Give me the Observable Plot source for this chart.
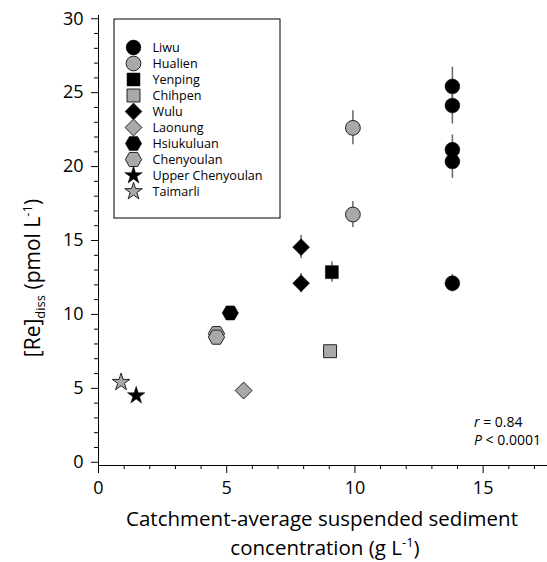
<!DOCTYPE html>
<html>
<head>
<meta charset="utf-8">
<script src="https://cdn.jsdelivr.net/npm/d3@7"></script>
<script src="https://cdn.jsdelivr.net/npm/@observablehq/plot@0.6"></script>
<style>
  html, body { margin: 0; padding: 0; background: #fff; }
  #wrap { position: relative; width: 547px; height: 562px; font-family: "Open Sans", sans-serif; }
  #legend { position: absolute; left: 113px; top: 18px; }
</style>
</head>
<body>
<div id="wrap"><div id="chart"></div><div id="legend"></div></div>
<script>
// ---- data ----
const sites = ["Liwu", "Hualien", "Yenping", "Chihpen", "Wulu", "Laonung", "Hsiukuluan", "Chenyoulan", "Upper Chenyoulan", "Taimarli"];
const pointSite = ["Liwu", "Liwu", "Liwu", "Liwu", "Liwu", "Hualien", "Hualien", "Yenping", "Chihpen", "Wulu", "Wulu", "Laonung", "Hsiukuluan", "Chenyoulan", "Chenyoulan", "Upper Chenyoulan", "Taimarli"];
const sediment = [13.8, 13.8, 13.8, 13.8, 13.8, 9.92, 9.92, 9.10, 9.03, 7.90, 7.90, 5.66, 5.14, 4.60, 4.60, 1.47, 0.88];
const rhenium = [25.42, 24.13, 21.14, 20.35, 12.11, 22.62, 16.76, 12.86, 7.51, 14.55, 12.11, 4.85, 10.10, 8.70, 8.46, 4.51, 5.41];
const rheniumErr = [1.3, 1.25, 1.0, 1.15, 0.6, 1.15, 0.88, 0.68, 0, 0.79, 0.65, 0, 0, 0, 0, 0, 0];
const xMajorTicks = [0, 5, 10, 15];
const yMajorTicks = [0, 5, 10, 15, 20, 25, 30];
const statsLines = [["r", " = 0.84"], ["P", " < 0.0001"]];

// ---- styles ----
const GRAY = "#a9a9a9";
const hexFlat = {
  draw(ctx, size) {
    const R = Math.sqrt(size / (3 * Math.sqrt(3) / 2));
    for (let i = 0; i < 6; i++) {
      const a = i * Math.PI / 3;
      const px = R * Math.cos(a), py = R * Math.sin(a);
      if (i === 0) ctx.moveTo(px, py); else ctx.lineTo(px, py);
    }
    ctx.closePath();
  }
};
const siteStyle = {
  "Liwu": {symbol: "circle", fill: "black"},
  "Hualien": {symbol: "circle", fill: GRAY},
  "Yenping": {symbol: "square", fill: "black"},
  "Chihpen": {symbol: "square", fill: GRAY},
  "Wulu": {symbol: "diamond2", fill: "black"},
  "Laonung": {symbol: "diamond2", fill: GRAY},
  "Hsiukuluan": {symbol: hexFlat, fill: "black"},
  "Chenyoulan": {symbol: hexFlat, fill: GRAY},
  "Upper Chenyoulan": {symbol: "star", fill: "black"},
  "Taimarli": {symbol: "star", fill: GRAY}
};
const symR = {"circle": 7.4, "square": 7.3, "diamond2": 7.6, "star": 5.5};

const points = pointSite.map((s, i) => ({site: s, x: sediment[i], y: rhenium[i], err: rheniumErr[i], i}));

function dotMark(data, site, opts) {
  const st = siteStyle[site];
  const r = typeof st.symbol === "string" ? symR[st.symbol] : 7.4;
  return Plot.dot(data, {
    ...opts,
    symbol: st.symbol,
    r,
    fill: st.fill,
    stroke: st.fill === "black" ? "black" : "#222",
    strokeWidth: st.fill === "black" ? 0.5 : 1
  });
}

const xMinor = d3.range(0, 18, 1).filter(v => !xMajorTicks.includes(v));
const yMinor = d3.range(0, 31, 1).filter(v => !yMajorTicks.includes(v));

// draw in point order so that later points sit on top
const dotMarks = points.map(p => dotMark([p], p.site, {x: "x", y: "y"}));

const chart = Plot.plot({
  width: 547,
  height: 562,
  marginLeft: 98,
  marginRight: 1,
  marginTop: 15,
  marginBottom: 97,
  style: {fontFamily: "'Open Sans', sans-serif", fontSize: "18px", color: "black", background: "white"},
  x: {domain: [0, 17.47]},
  y: {domain: [-0.22, 30.22]},
  marks: [
    Plot.ruleX(points.filter(d => d.err > 0), {x: "x", y1: d => d.y - d.err, y2: d => d.y + d.err, stroke: "#666", strokeWidth: 1.5}),
    ...dotMarks,
    Plot.axisX({ticks: xMinor, tickSize: 4, text: null, label: null, stroke: "black"}),
    Plot.axisX({ticks: xMajorTicks, tickSize: 8, tickPadding: 8, label: null, stroke: "black", fontSize: 18, tickFormat: d3.format("d")}),
    Plot.axisY({ticks: yMinor, tickSize: 4, text: null, label: null, stroke: "black"}),
    Plot.axisY({ticks: yMajorTicks, tickSize: 7, tickPadding: 8, label: null, stroke: "black", fontSize: 18, tickFormat: d3.format("d")}),
    Plot.frame({anchor: "left", stroke: "black"}),
    Plot.frame({anchor: "bottom", stroke: "black"})
  ]
});
document.getElementById("chart").append(chart);

// axis titles and stats text
const svg = d3.select(chart);
svg.append("text").attr("text-anchor", "middle").attr("font-size", 20.5).attr("fill", "black")
  .attr("x", 322).attr("y", 526).text("Catchment-average suspended sediment");
const xt2 = svg.append("text").attr("text-anchor", "middle").attr("font-size", 20.5).attr("fill", "black")
  .attr("x", 325).attr("y", 554.5);
xt2.append("tspan").text("concentration (g L");
xt2.append("tspan").attr("font-size", 13).attr("dy", -8).text("-1");
xt2.append("tspan").attr("dy", 8).text(")");

const yt = svg.append("text").attr("text-anchor", "middle").attr("font-size", 21).attr("fill", "black")
  .attr("transform", "translate(40,278) rotate(-90)");
yt.append("tspan").text("[Re]");
yt.append("tspan").attr("font-size", 13).attr("dy", 5).text("diss");
yt.append("tspan").attr("dy", -5).text(" (pmol L");
yt.append("tspan").attr("font-size", 13).attr("dy", -8).text("-1");
yt.append("tspan").attr("dy", 8).text(")");

statsLines.forEach(([v, rest], i) => {
  const t = svg.append("text").attr("x", 474).attr("y", 427 + i * 18).attr("font-size", 14)
    .attr("text-anchor", "start").attr("fill", "black");
  t.append("tspan").attr("font-style", "italic").text(v);
  t.append("tspan").text(rest);
});

// legend
const legendMarks = sites.map(s => dotMark([s], s, {y: d => d, frameAnchor: "left", dx: 20}));
const legend = Plot.plot({
  width: 167,
  height: 200,
  margin: 0,
  style: {fontFamily: "'Open Sans', sans-serif", background: "white", overflow: "visible"},
  y: {type: "point", domain: sites, range: [18, 184.5], axis: null},
  marks: [
    Plot.frame({stroke: "black", fill: "white", inset: 0.5}),
    ...legendMarks,
    Plot.text(sites, {y: d => d, text: d => d, frameAnchor: "left", dx: 39, textAnchor: "start", fontSize: 12.6, fill: "black"})
  ]
});
document.getElementById("legend").append(legend);
</script>
</body>
</html>
